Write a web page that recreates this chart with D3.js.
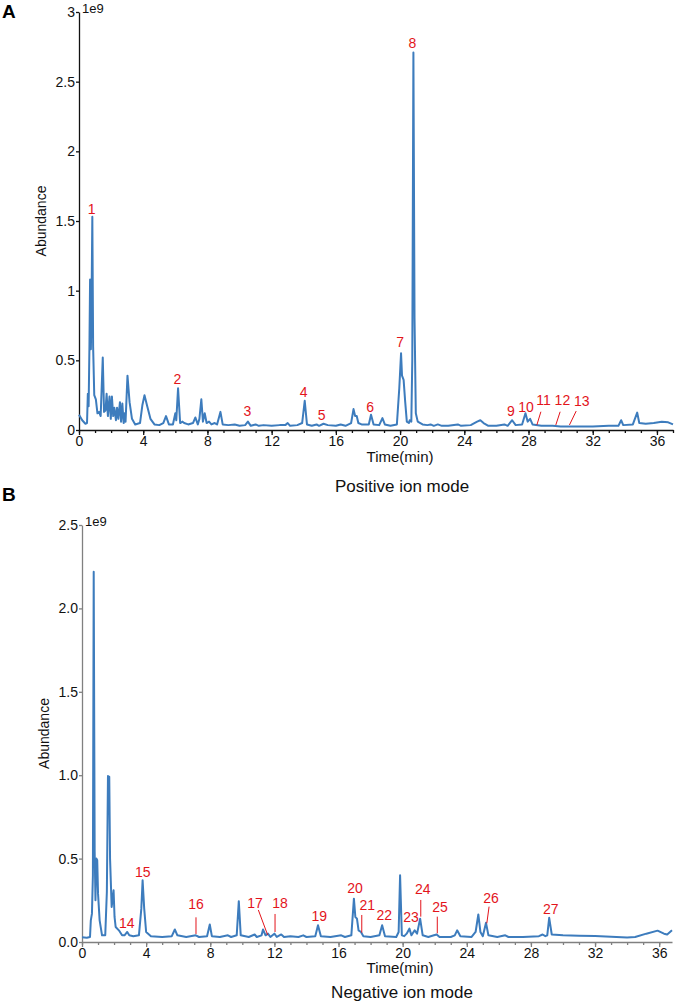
<!DOCTYPE html>
<html>
<head>
<meta charset="utf-8">
<script src="https://cdn.jsdelivr.net/npm/d3@7"></script>
<style>
  body { margin: 0; background: #fff; }
  text { font-family: "Liberation Sans", Arial, Helvetica, sans-serif; }
</style>
</head>
<body>
<div id="chart"></div>
<script>
const width = 675
const height = 1002

// time (min), abundance (x1e9)
const posTrace = [
  [0, 0.11], [0.2, 0.07], [0.4, 0.045], [0.5, 0.05], [0.55, 0.26], [0.6, 0.17], [0.65, 0.6],
  [0.69, 1.08], [0.74, 0.58], [0.78, 0.9], [0.83, 1.53], [0.88, 0.6], [0.95, 0.25], [1.05, 0.22],
  [1.15, 0.12], [1.25, 0.13], [1.35, 0.1], [1.48, 0.52], [1.56, 0.13], [1.65, 0.14], [1.72, 0.26],
  [1.8, 0.1], [1.9, 0.24], [1.98, 0.08], [2.05, 0.24], [2.13, 0.1], [2.2, 0.16], [2.3, 0.07],
  [2.37, 0.16], [2.45, 0.08], [2.55, 0.2], [2.62, 0.06], [2.7, 0.19], [2.78, 0.05], [2.85, 0.12],
  [2.9, 0.06], [3.02, 0.39], [3.15, 0.2], [3.3, 0.08], [3.5, 0.04], [3.8, 0.05], [3.95, 0.18],
  [4.08, 0.25], [4.25, 0.17], [4.45, 0.08], [4.7, 0.04], [5.0, 0.035], [5.25, 0.05], [5.42, 0.1],
  [5.6, 0.04], [5.85, 0.04], [6.0, 0.12], [6.06, 0.07], [6.17, 0.3], [6.3, 0.05], [6.45, 0.06],
  [6.55, 0.05], [6.8, 0.04], [7.1, 0.05], [7.25, 0.09], [7.4, 0.04], [7.5, 0.08], [7.62, 0.22],
  [7.72, 0.06], [7.83, 0.12], [7.95, 0.05], [8.1, 0.06], [8.25, 0.04], [8.45, 0.05], [8.6, 0.04],
  [8.81, 0.13], [8.95, 0.04], [9.3, 0.035], [9.7, 0.04], [10.0, 0.03], [10.35, 0.035], [10.52, 0.06],
  [10.7, 0.03], [11.0, 0.04], [11.2, 0.03], [11.5, 0.035], [12.0, 0.03], [12.5, 0.035], [12.85, 0.035],
  [13.0, 0.05], [13.15, 0.03], [13.6, 0.035], [13.9, 0.05], [14.06, 0.21], [14.2, 0.04], [14.5, 0.03],
  [14.8, 0.04], [14.95, 0.03], [15.23, 0.045], [15.5, 0.035], [16.0, 0.03], [16.3, 0.04], [16.6, 0.03],
  [16.95, 0.05], [17.1, 0.15], [17.2, 0.1], [17.3, 0.1], [17.4, 0.05], [17.6, 0.04], [17.9, 0.04],
  [18.05, 0.04], [18.19, 0.11], [18.35, 0.04], [18.7, 0.035], [18.9, 0.085], [19.05, 0.04], [19.4, 0.03],
  [19.8, 0.04], [19.95, 0.3], [20.06, 0.55], [20.12, 0.39], [20.22, 0.36], [20.32, 0.2], [20.42, 0.06],
  [20.55, 0.05], [20.6, 0.07], [20.7, 0.06], [20.76, 0.5], [20.83, 2.71], [20.9, 0.8], [20.98, 0.12],
  [21.1, 0.06], [21.4, 0.04], [21.7, 0.035], [21.9, 0.04], [22.1, 0.03], [22.35, 0.04], [22.6, 0.03],
  [23.0, 0.03], [23.6, 0.04], [23.8, 0.03], [24.4, 0.035], [24.8, 0.06], [25.0, 0.07], [25.2, 0.05],
  [25.5, 0.03], [26.0, 0.03], [26.5, 0.04], [26.7, 0.03], [26.98, 0.07], [27.2, 0.035], [27.6, 0.04],
  [27.81, 0.12], [27.95, 0.06], [28.1, 0.08], [28.25, 0.04], [28.8, 0.03], [29.5, 0.03], [30.0, 0.025],
  [31.0, 0.025], [32.0, 0.025], [33.0, 0.03], [33.6, 0.03], [33.77, 0.07], [33.9, 0.035], [34.5, 0.04],
  [34.77, 0.125], [34.9, 0.05], [35.3, 0.045], [35.8, 0.05], [36.3, 0.06], [36.7, 0.055], [37, 0.04]
]

// time (min), abundance (x1e9)
const negTrace = [
  [0, 0.028], [0.3, 0.025], [0.5, 0.03], [0.55, 0.13], [0.62, 0.17], [0.68, 0.4], [0.73, 2.22],
  [0.79, 0.54], [0.84, 0.25], [0.9, 0.5], [0.95, 0.49], [1.0, 0.29], [1.1, 0.13], [1.25, 0.04],
  [1.45, 0.04], [1.55, 0.3], [1.62, 0.995], [1.7, 0.99], [1.75, 0.5], [1.85, 0.21], [1.97, 0.31],
  [2.03, 0.15], [2.1, 0.09], [2.3, 0.07], [2.5, 0.04], [2.65, 0.04], [2.82, 0.06], [2.95, 0.04],
  [3.2, 0.035], [3.55, 0.04], [3.7, 0.2], [3.78, 0.37], [3.88, 0.2], [4.0, 0.06], [4.3, 0.035],
  [5.0, 0.03], [5.6, 0.035], [5.79, 0.075], [5.95, 0.04], [6.5, 0.03], [7.1, 0.04], [7.3, 0.03],
  [7.8, 0.035], [7.97, 0.105], [8.1, 0.035], [8.6, 0.03], [9.1, 0.04], [9.3, 0.03], [9.65, 0.04],
  [9.78, 0.245], [9.9, 0.04], [10.4, 0.03], [10.77, 0.045], [10.9, 0.03], [11.2, 0.04], [11.29, 0.075],
  [11.45, 0.04], [11.6, 0.05], [11.75, 0.03], [12.0, 0.05], [12.15, 0.03], [12.43, 0.045], [12.6, 0.03],
  [13.0, 0.035], [13.5, 0.03], [13.8, 0.04], [14.0, 0.03], [14.55, 0.035], [14.72, 0.1], [14.9, 0.035],
  [15.5, 0.03], [16.17, 0.04], [16.4, 0.03], [16.8, 0.04], [16.96, 0.26], [17.05, 0.15], [17.15, 0.14],
  [17.25, 0.07], [17.4, 0.06], [17.55, 0.035], [18.0, 0.03], [18.55, 0.04], [18.72, 0.1], [18.9, 0.035],
  [19.6, 0.03], [19.75, 0.06], [19.84, 0.4], [19.95, 0.04], [20.1, 0.035], [20.25, 0.05], [20.42, 0.08],
  [20.55, 0.04], [20.75, 0.07], [20.9, 0.05], [21.09, 0.14], [21.25, 0.04], [21.6, 0.03], [21.95, 0.04],
  [22.12, 0.045], [22.3, 0.03], [23.0, 0.03], [23.25, 0.04], [23.4, 0.07], [23.6, 0.035], [24.3, 0.03],
  [24.55, 0.06], [24.72, 0.165], [24.85, 0.06], [25.0, 0.035], [25.2, 0.115], [25.35, 0.04], [25.9, 0.03],
  [26.4, 0.04], [26.6, 0.03], [27.5, 0.03], [28.5, 0.035], [28.73, 0.045], [28.9, 0.035], [29.02, 0.04],
  [29.14, 0.145], [29.3, 0.045], [30, 0.04], [31, 0.038], [32, 0.036], [33, 0.032], [34, 0.027],
  [34.5, 0.03], [35.2, 0.05], [35.9, 0.068], [36.3, 0.05], [36.5, 0.045], [36.8, 0.07]
]

// peak number, time, abundance where the number sits
const posLabels = [
  ["1", 0.79, 1.55], ["2", 6.13, 0.33], ["3", 10.49, 0.104], ["4", 14.0, 0.235], ["5", 15.12, 0.075],
  ["6", 18.13, 0.13], ["7", 20.0, 0.595], ["8", 20.77, 2.745], ["9", 26.9, 0.1], ["10", 27.85, 0.13],
  ["11", 28.93, 0.183], ["12", 30.11, 0.183], ["13", 31.32, 0.172]
]
const negLabels = [
  ["14", 2.79, 0.081], ["15", 3.79, 0.389], ["16", 7.11, 0.195], ["17", 10.79, 0.205], ["18", 12.35, 0.205],
  ["19", 14.8, 0.125], ["20", 17.03, 0.295], ["21", 17.8, 0.189], ["22", 18.86, 0.131], ["23", 20.52, 0.121],
  ["24", 21.25, 0.285], ["25", 22.33, 0.179], ["26", 25.51, 0.235], ["27", 29.24, 0.169]
]

// leader lines: t1, v1, t2, v2
const posLeaders = [
  [28.77, 0.131, 28.52, 0.036], [29.97, 0.131, 29.7, 0.036], [30.97, 0.136, 30.55, 0.036]
]
const negLeaders = [
  [7.11, 0.148, 7.11, 0.048], [11.0, 0.192, 11.58, 0.042], [12.04, 0.168, 12.04, 0.06],
  [17.45, 0.162, 17.45, 0.056], [21.13, 0.252, 21.13, 0.152], [22.16, 0.152, 22.16, 0.052],
  [25.39, 0.212, 25.25, 0.112]
]

const posYTicks = [0, 0.5, 1, 1.5, 2, 2.5, 3]
const negYTicks = [0, 0.5, 1, 1.5, 2, 2.5]
const xTicks = d3.range(0, 37, 4)
const xMinor = d3.range(0, 38, 1)

const lineColor = "#3d7cbd"
const labelColor = "#e3141b"

const svg = d3.select("#chart").append("svg")
  .attr("width", width)
  .attr("height", height)

function panel(opts) {
  const x = d3.scaleLinear().domain(opts.xDomain).range(opts.xRange)
  const y = d3.scaleLinear().domain(opts.yDomain).range(opts.yRange)
  const g = svg.append("g")
  const bottom = opts.yRange[0]
  const left = opts.xRange[0]

  // minor x ticks
  g.append("g")
    .attr("transform", `translate(0,${bottom})`)
    .call(d3.axisBottom(x).tickValues(xMinor.filter((d) => d <= opts.xDomain[1])).tickSize(3).tickFormat(""))
    .call((s) => s.select(".domain").remove())
    .selectAll("line").attr("stroke", opts.axisColor)

  const xAxis = g.append("g")
    .attr("transform", `translate(0,${bottom})`)
    .call(d3.axisBottom(x).tickValues(xTicks).tickSize(5).tickSizeOuter(0).tickPadding(1))
  xAxis.selectAll("text").attr("font-size", 14).attr("fill", "#111")

  const yAxis = g.append("g")
    .attr("transform", `translate(${left},0)`)
    .call(d3.axisLeft(y).tickValues(opts.yTicks).tickSize(3).tickSizeOuter(0).tickPadding(1).tickFormat(opts.yFormat))
  yAxis.selectAll("text").attr("font-size", 14).attr("fill", "#111")

  g.selectAll(".domain, .tick line").attr("stroke", opts.axisColor).attr("stroke-width", 1.3)

  g.append("text")
    .attr("x", left + 3)
    .attr("y", opts.yRange[1] + 1)
    .attr("font-size", 13)
    .attr("fill", "#111")
    .text("1e9")

  g.append("text")
    .attr("transform", `translate(${opts.yTitleX},${(opts.yRange[0] + opts.yRange[1]) / 2}) rotate(-90)`)
    .attr("text-anchor", "middle")
    .attr("font-size", 14)
    .attr("fill", "#111")
    .text("Abundance")

  g.append("text")
    .attr("x", 400)
    .attr("y", bottom + opts.xTitleDy)
    .attr("text-anchor", "middle")
    .attr("font-size", 15)
    .attr("fill", "#111")
    .text("Time(min)")

  g.append("text")
    .attr("x", 402)
    .attr("y", bottom + opts.modeDy)
    .attr("text-anchor", "middle")
    .attr("font-size", 17)
    .attr("fill", "#111")
    .text(opts.mode)

  g.append("text")
    .attr("x", 2)
    .attr("y", opts.letterY)
    .attr("font-size", 19)
    .attr("font-weight", "bold")
    .attr("fill", "#000")
    .text(opts.letter)

  const line = d3.line()
    .x((d) => x(d[0]))
    .y((d) => y(d[1]))

  g.append("path")
    .datum(opts.trace)
    .attr("fill", "none")
    .attr("stroke", lineColor)
    .attr("stroke-width", 2)
    .attr("stroke-linejoin", "round")
    .attr("d", line)

  g.selectAll(".leader")
    .data(opts.leaders)
    .join("line")
    .attr("x1", (d) => x(d[0]))
    .attr("y1", (d) => y(d[1]))
    .attr("x2", (d) => x(d[2]))
    .attr("y2", (d) => y(d[3]))
    .attr("stroke", labelColor)
    .attr("stroke-width", 1)

  g.selectAll(".peak")
    .data(opts.labels)
    .join("text")
    .attr("x", (d) => x(d[1]))
    .attr("y", (d) => y(d[2]))
    .attr("text-anchor", "middle")
    .attr("font-size", 14)
    .attr("fill", labelColor)
    .text((d) => d[0])
}

panel({
  trace: posTrace,
  labels: posLabels,
  leaders: posLeaders,
  xDomain: [0, 37],
  xRange: [79, 673],
  yDomain: [0, 3],
  yRange: [430, 12],
  yTicks: posYTicks,
  yFormat: d3.format("~g"),
  axisColor: "#111",
  yTitleX: 46,
  xTitleDy: 32,
  modeDy: 62,
  mode: "Positive ion mode",
  letter: "A",
  letterY: 18
})

panel({
  trace: negTrace,
  labels: negLabels,
  leaders: negLeaders,
  xDomain: [0, 36.8],
  xRange: [82, 672],
  yDomain: [0, 2.5],
  yRange: [942, 525],
  yTicks: negYTicks,
  yFormat: d3.format(".1f"),
  axisColor: "#808080",
  yTitleX: 49,
  xTitleDy: 31,
  modeDy: 56,
  mode: "Negative ion mode",
  letter: "B",
  letterY: 501
})
</script>
</body>
</html>
